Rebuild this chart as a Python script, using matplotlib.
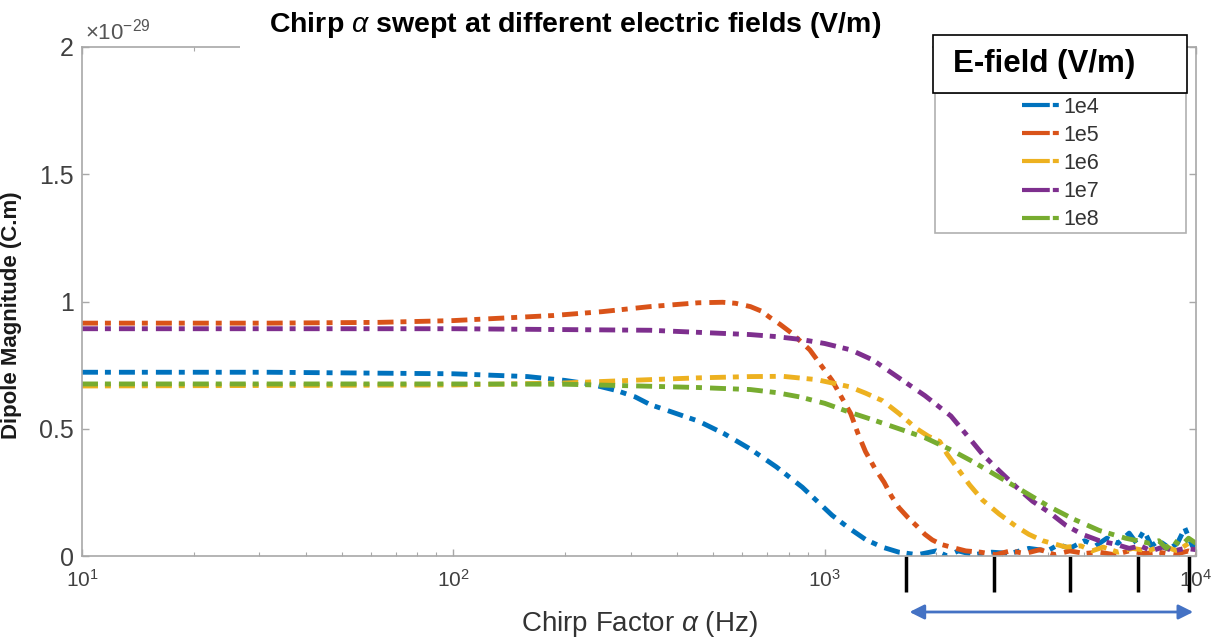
import numpy as np
import matplotlib
matplotlib.use("Agg")
import matplotlib.pyplot as plt
from matplotlib.patches import Rectangle
from matplotlib.lines import Line2D

plt.rcParams["font.family"] = ["Liberation Sans", "DejaVu Sans"]
plt.rcParams["mathtext.fontset"] = "custom"
plt.rcParams["mathtext.rm"] = "Liberation Sans"
plt.rcParams["mathtext.it"] = "Liberation Sans:italic"
plt.rcParams["mathtext.bf"] = "Liberation Sans:bold"
plt.rcParams["lines.scale_dashes"] = False

# ---------------- data (y in units of 1e-29 C.m, x as log10 of Hz) ----------------
labels = ["1e4", "1e5", "1e6", "1e7", "1e8"]
colors = ["#0072BD", "#D95319", "#EDB120", "#7E2F8E", "#77AC30"]

logf_1e4 = [1.0, 1.5, 2.0, 2.2, 2.3, 2.37, 2.44, 2.49, 2.53, 2.6, 2.66, 2.73, 2.8, 2.87,
            2.94, 2.98, 3.02, 3.065, 3.11, 3.155, 3.2,
            3.25, 3.3, 3.33, 3.36, 3.4, 3.45, 3.5, 3.55, 3.6, 3.63, 3.66, 3.7, 3.73,
            3.76, 3.79, 3.82, 3.84, 3.86, 3.88, 3.9, 3.93, 3.95, 3.97, 3.99, 4.0]
dip_1e4 = [0.722, 0.722, 0.716, 0.705, 0.69, 0.675, 0.65, 0.625, 0.595, 0.56, 0.53, 0.48, 0.42, 0.35,
           0.27, 0.215, 0.16, 0.11, 0.065, 0.035, 0.015,
           0.005, 0.02, 0.0, 0.02, 0.005, 0.015, 0.01, 0.03, 0.02, 0.045, 0.03, 0.06, 0.04,
           0.07, 0.05, 0.09, 0.05, 0.10, 0.04, 0.06, 0.03, 0.05, 0.11, 0.04, 0.05]

logf_1e5 = [1.0, 1.5, 1.8, 2.0, 2.27, 2.4, 2.53, 2.66, 2.725, 2.76, 2.8, 2.83, 2.85, 2.88,
            2.91, 2.96, 2.99, 3.02, 3.045, 3.07, 3.09, 3.11, 3.135, 3.16, 3.18, 3.2, 3.225,
            3.25, 3.27, 3.29, 3.315, 3.34, 3.38, 3.42, 3.46, 3.5, 3.54, 3.58,
            3.62, 3.66, 3.7, 3.74, 3.78, 3.82, 3.86, 3.9, 3.94, 3.98, 4.0]
dip_1e5 = [0.915, 0.915, 0.918, 0.925, 0.945, 0.96, 0.98, 0.995, 0.997, 0.993, 0.98, 0.962, 0.94, 0.91,
           0.877, 0.81, 0.75, 0.69, 0.625, 0.56, 0.48, 0.41, 0.345, 0.29, 0.235, 0.19, 0.15,
           0.115, 0.085, 0.063, 0.045, 0.035, 0.02, 0.015, 0.005, 0.02, 0.01, 0.025,
           0.005, 0.02, 0.01, 0.015, 0.005, 0.02, 0.01, 0.015, 0.005, 0.02, 0.01]

logf_1e6 = [1.0, 2.0, 2.3, 2.53, 2.66, 2.8, 2.887, 2.978, 3.02, 3.067, 3.11, 3.156, 3.2,
            3.248, 3.28, 3.31, 3.33, 3.36, 3.39, 3.425, 3.47, 3.517, 3.55, 3.587, 3.65,
            3.69, 3.72, 3.75, 3.79, 3.83, 3.87, 3.91, 3.95, 3.98, 4.0]
dip_1e6 = [0.668, 0.672, 0.68, 0.693, 0.70, 0.705, 0.706, 0.693, 0.68, 0.665, 0.64, 0.61, 0.56,
           0.50, 0.47, 0.45, 0.40, 0.34, 0.28, 0.22, 0.165, 0.115, 0.085, 0.06, 0.035,
           0.04, 0.02, 0.035, 0.015, 0.03, 0.02, 0.04, 0.02, 0.05, 0.04]

logf_1e7 = [1.0, 2.0, 2.53, 2.8, 2.87, 2.94, 3.0, 3.07, 3.13, 3.2, 3.27, 3.34, 3.38, 3.425,
            3.47, 3.517, 3.56, 3.606, 3.65, 3.694, 3.74, 3.786,
            3.82, 3.85, 3.88, 3.91, 3.94, 3.97, 4.0]
dip_1e7 = [0.893, 0.893, 0.887, 0.87, 0.862, 0.85, 0.835, 0.81, 0.77, 0.70, 0.63, 0.55, 0.48, 0.40,
           0.335, 0.27, 0.215, 0.17, 0.12, 0.085, 0.06, 0.045,
           0.03, 0.04, 0.02, 0.035, 0.02, 0.03, 0.025]

logf_1e8 = [1.0, 2.0, 2.3, 2.53, 2.66, 2.8, 2.87, 2.933, 3.0, 3.067, 3.13, 3.2, 3.27, 3.336,
            3.40, 3.47, 3.54, 3.606, 3.67, 3.74, 3.81, 3.875,
            3.9, 3.92, 3.94, 3.96, 3.98, 4.0]
dip_1e8 = [0.676, 0.676, 0.675, 0.667, 0.662, 0.654, 0.642, 0.625, 0.60, 0.565, 0.535, 0.50, 0.465, 0.42,
           0.37, 0.31, 0.25, 0.193, 0.145, 0.10, 0.07, 0.05,
           0.06, 0.03, 0.06, 0.04, 0.07, 0.05]

# swept range markers (Hz)
marker_freqs = [1660, 2850, 4570, 6960, 9600]

series = [(logf_1e4, dip_1e4), (logf_1e5, dip_1e5), (logf_1e6, dip_1e6),
          (logf_1e7, dip_1e7), (logf_1e8, dip_1e8)]

# ---------------- plot ----------------
W, H = 1221, 638
fig = plt.figure(figsize=(W / 100, H / 100), dpi=100)
ax = fig.add_axes([82 / W, 82 / H, (1196 - 82) / W, (556 - 47) / H])

dash = (0, (11.5, 5.0, 4.3, 5.8))
for (lf, d), c, lab in zip(series, colors, labels):
    ax.plot(10 ** np.array(lf), d, color=c, lw=3.5, linestyle=dash, label=lab)

ax.set_xscale("log")
ax.set_xlim(10, 1e4)
ax.set_ylim(0, 2)
ax.set_yticks([0, 0.5, 1, 1.5, 2])
ax.set_yticklabels(["0", "0.5", "1", "1.5", "2"])

axcol = "#a8a8a8"
for s in ax.spines.values():
    s.set_color(axcol)
    s.set_linewidth(1.2)
ax.tick_params(which="both", direction="in", top=True, right=True, colors=axcol,
               labelcolor="#404040")
ax.tick_params(which="major", length=5, width=1)
ax.tick_params(which="minor", length=3, width=0.8)
ax.tick_params(axis="x", pad=9, labelsize=15)
ax.tick_params(axis="y", pad=6, labelsize=18)

ax.set_xlabel(r"Chirp Factor $\alpha$ (Hz)", fontsize=20, color="#333333", labelpad=13.5)
ax.set_ylabel("Dipole Magnitude (C.m)", fontsize=16, fontweight="bold", color="#1a1a1a")
ax.yaxis.set_label_coords(-0.054, 0.473)
ax.text(0.003, 1.005, r"$\times10^{-29}$", transform=ax.transAxes, fontsize=16,
        color="#555555", ha="left", va="bottom")

# black markers below the axis
for f in marker_freqs:
    ax.plot([f, f], [0, -0.142], color="black", lw=2.5, clip_on=False, solid_capstyle="butt")

# blue double arrow
ax.annotate("", xy=(1e4, -0.11), xytext=(1663, -0.11),
            xycoords=ax.get_xaxis_transform(), textcoords=ax.get_xaxis_transform(),
            arrowprops=dict(arrowstyle="<|-|>", color="#4472C4", lw=2, mutation_scale=22))

# title with white box covering the top spine
fig.add_artist(Rectangle((240 / W, 1 - 58 / H), 692 / W, 58 / H, transform=fig.transFigure,
                         facecolor="white", edgecolor="none", zorder=5))
fig.text(575 / W, 1 - 25 / H, r"Chirp $\alpha$ swept at different electric fields (V/m)",
         ha="center", va="center", fontsize=20.5, fontweight="bold", color="black", zorder=6)

# legend frame and header box
fig.add_artist(Rectangle((935 / W, 1 - 233 / H), 251 / W, 140 / H, transform=fig.transFigure,
                         facecolor="white", edgecolor="#b0b0b0", lw=1.2, zorder=5))
fig.add_artist(Rectangle((933 / W, 1 - 93 / H), 254 / W, 58 / H, transform=fig.transFigure,
                         facecolor="white", edgecolor="black", lw=1.2, zorder=6))
fig.text(953 / W, 1 - 64 / H, "E-field (V/m)", ha="left", va="center", fontsize=22.5,
         fontweight="bold", color="black", zorder=7)

proxies = [Line2D([], [], color=c, lw=3, linestyle=(0, (20, 2.2, 4.3, 10))) for c in colors]
leg = fig.legend(handles=proxies, labels=labels, loc="center",
                 bbox_to_anchor=(1060.5 / W, 1 - 163.5 / H), frameon=False, fontsize=15.5,
                 handlelength=1.75, handletextpad=0.15, labelspacing=0.33, borderpad=0.2)
leg.set_zorder(8)
for t in leg.get_texts():
    t.set_color("#333333")

fig.savefig("out.png", dpi=100)
